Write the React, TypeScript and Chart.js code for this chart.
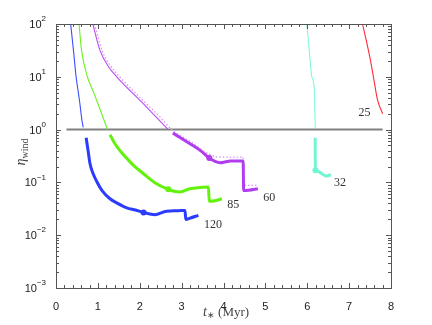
import React, { useEffect, useRef } from 'react';
import { Chart, registerables } from 'chart.js';
Chart.register(...registerables);

// ---- data ----
const blueThinT = [0.35, 0.42, 0.48, 0.56, 0.62, 0.65];
const blueThinEta = [100, 30, 10, 3.6, 1.5, 1.1];
const blueThickT = [0.72, 0.77, 0.81, 0.88, 0.97, 1.1, 1.29, 1.45, 1.69, 1.9, 2.09, 2.36, 2.64, 2.9, 3.08, 3.1, 3.2, 3.4];
const blueThickEta = [0.7, 0.38, 0.23, 0.15, 0.105, 0.07, 0.049, 0.041, 0.033, 0.03, 0.027, 0.0245, 0.0285, 0.029, 0.0295, 0.0198, 0.021, 0.0238];

const greenThinT = [0.55, 0.61, 0.75, 0.86, 0.97, 1.23];
const greenThinEta = [100, 31.6, 10, 6.0, 3.6, 1.0];
const greenThickT = [1.29, 1.4, 1.55, 1.7, 1.85, 2.09, 2.35, 2.68, 2.85, 2.96, 3.2, 3.45, 3.64, 3.66, 3.8, 3.96];
const greenThickEta = [0.8, 0.55, 0.38, 0.28, 0.21, 0.146, 0.1, 0.074, 0.067, 0.066, 0.076, 0.08, 0.082, 0.044, 0.045, 0.049];

const purpleThinT = [0.88, 1.05, 1.25, 1.45, 2.05, 2.4, 2.68];
const purpleThinEta = [100, 31.6, 15.7, 10, 3.3, 1.7, 1.0];
const purpleThickT = [2.79, 3.0, 3.2, 3.45, 3.66, 3.8, 3.92, 4.05, 4.16, 4.47, 4.48, 4.6, 4.82];
const purpleThickEta = [0.86, 0.68, 0.54, 0.4, 0.29, 0.25, 0.236, 0.245, 0.254, 0.254, 0.07, 0.071, 0.076];
const purpleDotT = [0.92, 1.1, 1.31, 1.52, 2.12, 2.48, 2.76, 3.2, 3.66, 3.92, 4.1, 4.47, 4.48, 4.55, 4.8];
const purpleDotEta = [100, 31.6, 15.7, 10, 3.3, 1.75, 1.0, 0.6, 0.34, 0.3, 0.3, 0.3, 0.09, 0.088, 0.088];

const cyanThinT = [5.99, 6.05, 6.11, 6.17, 6.18, 6.19];
const cyanThinEta = [100, 30, 10, 5.6, 2.5, 1.05];
const cyanThickT = [6.19, 6.191, 6.195, 6.25, 6.33, 6.45, 6.57];
const cyanThickEta = [0.7, 0.3, 0.169, 0.162, 0.15, 0.132, 0.14];

const redT = [7.32, 7.42, 7.51, 7.58, 7.68, 7.8];
const redEta = [100, 45, 20.4, 10, 3.6, 2.0];

const refLineT = [0.25, 7.8];
const refLineEta = [1, 1];

const massLabels = ['120', '85', '60', '32', '25'];
const massLabelT = [3.75, 4.23, 5.09, 6.78, 7.37];
const massLabelEta = [0.016, 0.037, 0.052, 0.096, 2.04];

const yDecades = [-3, -2, -1, 0, 1, 2];
const xTickValues = [0, 1, 2, 3, 4, 5, 6, 7, 8];

const pts = (t: number[], e: number[]) => t.map((x, i) => ({ x, y: e[i] }));

export default function App() {
  const ref = useRef<HTMLCanvasElement>(null);
  useEffect(() => {
    if (!ref.current) return;
    const deco = {
      id: 'deco',
      afterDraw(chart: any) {
        const ctx = chart.ctx as CanvasRenderingContext2D;
        const { left, right, top, bottom } = chart.chartArea;
        const xs = chart.scales.x;
        const ys = chart.scales.y;
        ctx.save();
        // frame
        ctx.strokeStyle = '#555';
        ctx.lineWidth = 1;
        ctx.strokeRect(Math.round(left) + 0.5, Math.round(top) + 0.5, Math.round(right - left), Math.round(bottom - top));
        ctx.beginPath();
        // x ticks
        for (let i = 0; i <= 40; i++) {
          const v = i * 0.2;
          const p = Math.round(xs.getPixelForValue(v)) + 0.5;
          const len = i % 5 === 0 ? 5 : 3;
          ctx.moveTo(p, bottom);
          ctx.lineTo(p, bottom - len);
          ctx.moveTo(p, top);
          ctx.lineTo(p, top + len);
        }
        // y ticks
        for (const d of yDecades) {
          const base = Math.pow(10, d);
          for (let k = 1; k <= 9; k++) {
            if (d === 2 && k > 1) break;
            const p = Math.round(ys.getPixelForValue(k * base)) + 0.5;
            const len = k === 1 ? 5 : 3;
            ctx.moveTo(left, p);
            ctx.lineTo(left + len, p);
            ctx.moveTo(right, p);
            ctx.lineTo(right - len, p);
          }
        }
        ctx.stroke();
        // y tick labels
        ctx.fillStyle = '#222';
        ctx.textBaseline = 'middle';
        for (const d of yDecades) {
          const p = ys.getPixelForValue(Math.pow(10, d));
          const exp = d < 0 ? '\u2212' + Math.abs(d) : String(d);
          ctx.font = '8px "Liberation Sans", Arial, sans-serif';
          const ew = ctx.measureText(exp).width;
          ctx.textAlign = 'left';
          const expX = 46 - ew;
          ctx.fillText(exp, expX, p - 5);
          ctx.font = '11px "Liberation Sans", Arial, sans-serif';
          ctx.textAlign = 'right';
          ctx.fillText('10', expX, p + 1);
        }
        // curve labels
        ctx.fillStyle = '#333';
        ctx.font = '12px "Liberation Serif", "DejaVu Serif", serif';
        ctx.textAlign = 'center';
        massLabels.forEach((s, i) => {
          ctx.fillText(s, xs.getPixelForValue(massLabelT[i]), ys.getPixelForValue(massLabelEta[i]));
        });
        // x title
        ctx.fillStyle = '#444';
        ctx.textBaseline = 'alphabetic';
        ctx.textAlign = 'left';
        const f1 = 'italic 14px "Liberation Serif", serif';
        const f2 = '9px "Liberation Serif", serif';
        const f3 = '13px "Liberation Serif", serif';
        ctx.font = f1; const w1 = ctx.measureText('t').width;
        ctx.font = f2; const w2 = ctx.measureText('\u2217').width;
        ctx.font = f3; const w3 = ctx.measureText(' (Myr)').width;
        let x0 = 226 - (w1 + w2 + w3) / 2;
        const by = 316;
        ctx.font = f1; ctx.fillText('t', x0, by); x0 += w1;
        ctx.font = f2; ctx.fillText('\u2217', x0, by + 2); x0 += w2;
        ctx.font = f3; ctx.fillText(' (Myr)', x0, by);
        // y title
        ctx.translate(25, 152);
        ctx.rotate(-Math.PI / 2);
        const g1 = 'italic 14px "Liberation Serif", serif';
        const g2 = '10px "Liberation Serif", serif';
        ctx.font = g1; const v1 = ctx.measureText('\u03b7').width;
        ctx.font = g2; const v2 = ctx.measureText('wind').width;
        let yx = -(v1 + v2) / 2;
        ctx.font = g1; ctx.fillText('\u03b7', yx, 0); yx += v1;
        ctx.font = g2; ctx.fillText('wind', yx, 3);
        ctx.restore();
      },
    };

    const thin = (data: any, color: string) => ({ data, borderColor: color, borderWidth: 1.1, pointRadius: 0, cubicInterpolationMode: 'monotone', fill: false });
    const thick = (data: any, color: string, dot: number) => ({
      data,
      borderColor: color,
      borderWidth: 3,
      cubicInterpolationMode: 'monotone',
      fill: false,
      pointRadius: data.map((_: any, i: number) => (i === dot ? 3 : 0)),
      pointBackgroundColor: color,
      pointBorderWidth: 0,
    });

    const chart = new Chart(ref.current, {
      type: 'line',
      data: {
        datasets: [
          thick(pts(blueThickT, blueThickEta), '#2b3cff', 10),
          thick(pts(greenThickT, greenThickEta), '#62f20e', 7),
          thick(pts(purpleThickT, purpleThickEta), '#b23cf0', 4),
          thick(pts(cyanThickT, cyanThickEta), '#72f5d6', 2),
          { data: pts(purpleDotT, purpleDotEta), borderColor: '#d890ff', borderWidth: 1.3, borderDash: [1.5, 2], pointRadius: 0, cubicInterpolationMode: 'monotone', fill: false },
          thin(pts(blueThinT, blueThinEta), '#3a50ff'),
          thin(pts(greenThinT, greenThinEta), '#6cf020'),
          thin(pts(purpleThinT, purpleThinEta), '#b84cf2'),
          thin(pts(cyanThinT, cyanThinEta), '#80f8dc'),
          thin(pts(redT, redEta), '#ff2a3a'),
          { data: pts(refLineT, refLineEta), borderColor: '#808080', borderWidth: 2, pointRadius: 0, fill: false },
        ],
      },
      options: {
        animation: false,
        responsive: false,
        devicePixelRatio: 1,
        layout: { padding: { left: 0, right: 41, top: 24, bottom: 0 } },
        plugins: { legend: { display: false }, tooltip: { enabled: false } },
        scales: {
          x: {
            type: 'linear',
            min: 0,
            max: 8,
            grid: { display: false },
            border: { display: false },
            ticks: { stepSize: 1, color: '#222', padding: 4, font: { family: '"Liberation Sans", Arial, sans-serif', size: 11 } },
            afterBuildTicks: (s: any) => { s.ticks = xTickValues.map((v) => ({ value: v })); },
            afterFit: (s: any) => { s.height = 37; },
          },
          y: {
            type: 'logarithmic',
            min: 1e-3,
            max: 1e2,
            grid: { display: false },
            border: { display: false },
            ticks: { display: false },
            afterBuildTicks: (s: any) => { s.ticks = yDecades.map((d) => ({ value: Math.pow(10, d) })); },
            afterFit: (s: any) => { s.width = 56; },
          },
        },
      },
      plugins: [deco],
    } as any);
    return () => chart.destroy();
  }, []);
  return (
    <div style={{ position: 'absolute', left: 0, top: 0, width: 432, height: 325, background: '#fff' }}>
      <canvas ref={ref} width={432} height={325} style={{ display: 'block' }} />
    </div>
  );
}
